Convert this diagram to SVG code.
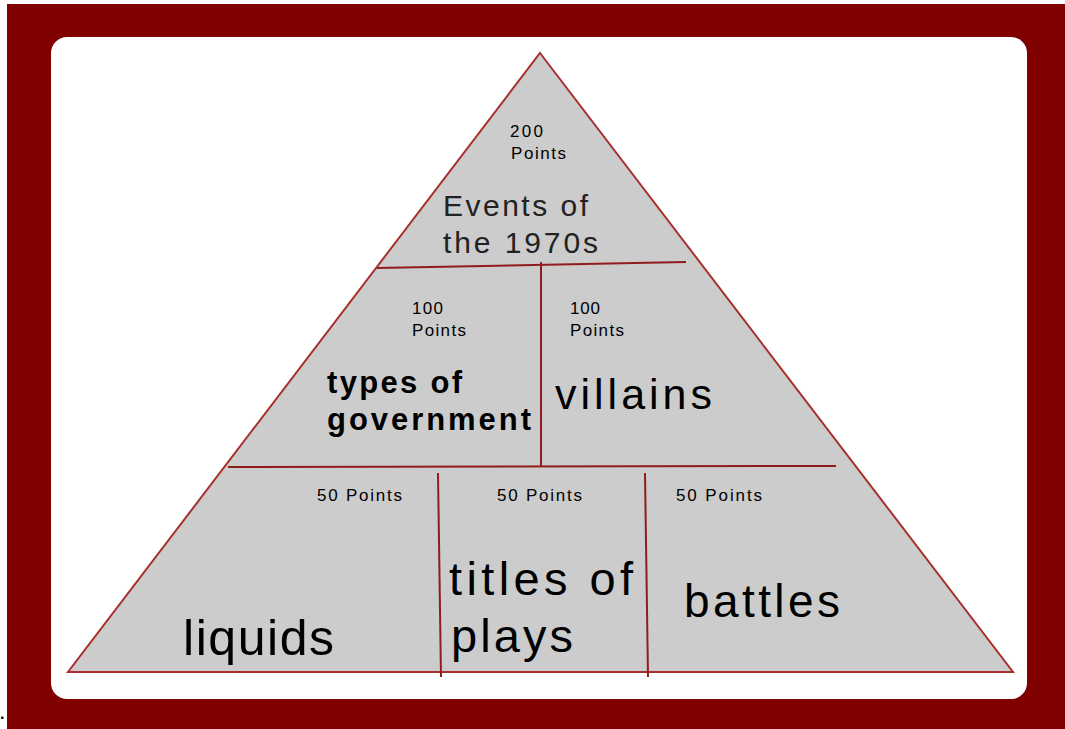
<svg xmlns="http://www.w3.org/2000/svg" width="1065" height="729" viewBox="0 0 1065 729">
<style>
text{font-family:"Liberation Sans",Arial,sans-serif;fill:#000}
.pts{font-size:17px}
.big{font-size:46px}
.div{stroke:#921c1c;stroke-width:2;fill:none}
</style>
<rect x="0" y="0" width="1065" height="729" fill="#ffffff"/>
<rect x="7" y="4" width="1058" height="725" fill="#800000"/>
<rect x="51" y="37" width="976" height="662" rx="16" ry="16" fill="#ffffff"/>
<g id="pyramid">
<polygon points="540,53 1013,672 68,672" fill="#cccccc" stroke="#a8302f" stroke-width="2" stroke-linejoin="miter"/>
</g>
<g id="connectors">
<line class="div" x1="377" y1="268" x2="686" y2="262"/>
<line class="div" x1="541" y1="262" x2="541" y2="467"/>
<line class="div" x1="228" y1="467" x2="836" y2="466"/>
<line class="div" x1="438" y1="473" x2="441" y2="677"/>
<line class="div" x1="645" y1="473" x2="648" y2="677"/>
</g>
<g id="node-events">
<text class="pts" x="510" y="137" textLength="33" lengthAdjust="spacing">200</text>
<text class="pts" x="511" y="159" textLength="55" lengthAdjust="spacing">Points</text>
<text x="443" y="216" font-size="30" style="fill:#222" textLength="145" lengthAdjust="spacing">Events of</text>
<text x="443" y="253" font-size="30" style="fill:#222" textLength="155" lengthAdjust="spacing">the 1970s</text>
</g>
<g id="node-government">
<text class="pts" x="412" y="314" textLength="31" lengthAdjust="spacing">100</text>
<text class="pts" x="412" y="336" textLength="54" lengthAdjust="spacing">Points</text>
<text x="327" y="393" font-size="31" font-weight="bold" textLength="135" lengthAdjust="spacing">types of</text>
<text x="327" y="430" font-size="31" font-weight="bold" textLength="204" lengthAdjust="spacing">government</text>
</g>
<g id="node-villains">
<text class="pts" x="570" y="314" textLength="30" lengthAdjust="spacing">100</text>
<text class="pts" x="570" y="336" textLength="54" lengthAdjust="spacing">Points</text>
<text x="555" y="409" font-size="43" textLength="157" lengthAdjust="spacing">villains</text>
</g>
<g id="node-liquids">
<text class="pts" x="317" y="501" textLength="85" lengthAdjust="spacing">50 Points</text>
<text x="183" y="655" font-size="50" textLength="151" lengthAdjust="spacing">liquids</text>
</g>
<g id="node-plays">
<text class="pts" x="497" y="501" textLength="85" lengthAdjust="spacing">50 Points</text>
<text x="449" y="595" font-size="47" textLength="184" lengthAdjust="spacing">titles of</text>
<text x="451" y="652" font-size="47" textLength="122" lengthAdjust="spacing">plays</text>
</g>
<g id="node-battles">
<text class="pts" x="676" y="501" textLength="86" lengthAdjust="spacing">50 Points</text>
<text class="big" x="684" y="617" textLength="156" lengthAdjust="spacing">battles</text>
</g>
<text x="0" y="719" font-size="16" font-weight="bold">.</text>
</svg>
